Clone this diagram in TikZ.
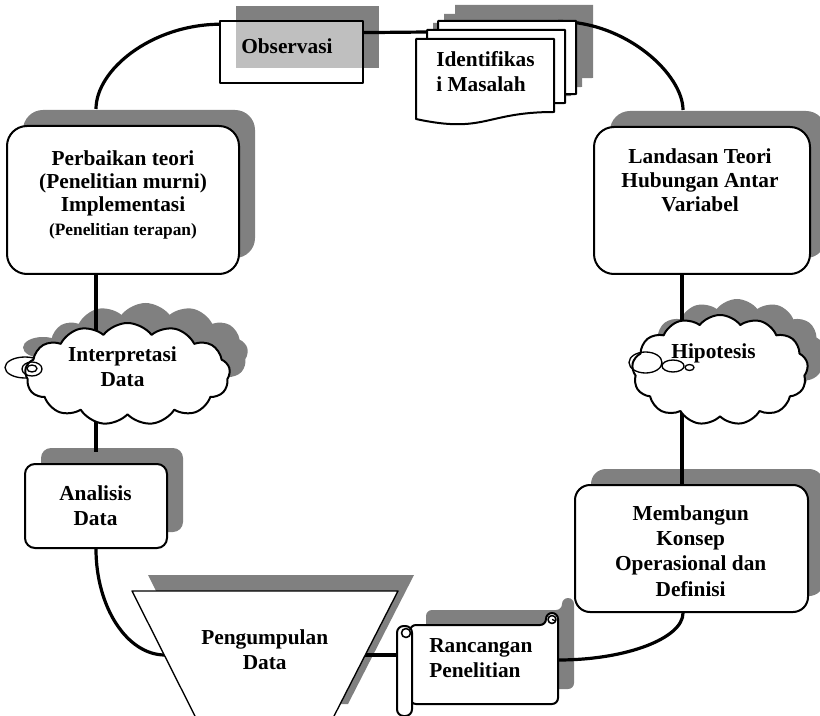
\documentclass[tikz,border=0pt]{standalone}
\usepackage{fontspec}
\setmainfont{Liberation Serif}
\usetikzlibrary{shapes.symbols,calc}
\definecolor{sg}{HTML}{808080}
\pgfdeclarelayer{shd}
\pgfdeclarelayer{conn}
\pgfsetlayers{shd,conn,main}
\newcommand\mydoc{(0,0) -- (138,0) -- (138,73) .. controls (69,73) and (69,95) .. (0,80) -- cycle}
\newcommand\mytrap{(132,591) -- (398,591) -- (332,720) -- (197,720) -- cycle}
\newcommand\myscrollbody{(410,625) -- (546,625) -- (546,613) -- (558,613) -- (558,704) -- (410,704) -- cycle}
\newcommand\mytube{(397,626) rectangle (412,716)}
\begin{document}
\begin{tikzpicture}[x=0.75pt,y=-0.75pt,line join=round,
  link/.style={line width=2.4pt},
  rbox/.style={draw,line width=1.5pt,fill=white,inner sep=0pt},
  sbox/.style={fill=sg,inner sep=0pt},
  mycloud/.style={cloud,cloud puffs=13,cloud puff arc=105,cloud ignores aspect,inner sep=0pt},
  txt/.style={font=\bfseries\fontsize{16}{18.75}\selectfont,align=center,inner sep=0pt},
]
\useasboundingbox (0,0) rectangle (820,716);

% ---------- shadows ----------
\begin{pgfonlayer}{shd}
\node[sbox,minimum width=107.25pt,minimum height=46.5pt] (obsS) at (307.5,37) {};
\begin{scope}[shift={(455,5)}]\fill[sg] \mydoc;\end{scope}
\begin{scope}[shift={(444,14)}]\fill[sg] \mydoc;\end{scope}
\begin{scope}[shift={(433,23)}]\fill[sg] \mydoc;\end{scope}
\node[sbox,rounded corners=15pt,minimum width=174pt,minimum height=111pt] (perbS) at (139,184) {};
\node[sbox,rounded corners=15pt,minimum width=162pt,minimum height=110.25pt] (landS) at (718,184.5) {};
\node[sbox,mycloud,minimum width=153.75pt,minimum height=76.5pt] (interpS) at (145.5,354) {};
\fill[sg] (43,347.5) ellipse [x radius=20,y radius=10.5];
\node[sbox,mycloud,minimum width=132pt,minimum height=82.5pt] (hipoS) at (737,354) {};
\node[sbox,rounded corners=7.5pt,minimum width=106.5pt,minimum height=63pt] (analS) at (112,490) {};
\node[sbox,rounded corners=11.25pt,minimum width=174.75pt,minimum height=95.25pt] (membS) at (707.5,532.5) {};
\fill[sg,shift={(16,-16)}] \mytrap;
\fill[sg,shift={(16,-15)},rounded corners=4.5pt] \myscrollbody;
\end{pgfonlayer}

% ---------- Observasi ----------
\node[draw,line width=1.3pt,fill=white,fill opacity=0.5,draw opacity=1,inner sep=0pt,
      minimum width=107.25pt,minimum height=46.5pt] (obs) at (291.5,52) {};
\node[txt,anchor=west] (tobs) at (241,46) {Observasi};

% ---------- Identifikasi Masalah (multi document) ----------
\begin{scope}[shift={(438,21)}]\filldraw[fill=white,line width=1.5pt] \mydoc;\end{scope}
\begin{scope}[shift={(427,30)}]\filldraw[fill=white,line width=1.5pt] \mydoc;\end{scope}
\begin{scope}[shift={(416,39)}]\filldraw[fill=white,line width=1.5pt] \mydoc;\end{scope}
\node[txt,align=left,anchor=west] (tidm) at (436,71.7) {Identifikas\\i Masalah};
\coordinate (idmL) at (427,32);
\coordinate (idmT) at (558,21.5);

% ---------- rounded boxes ----------
\node[rbox,rounded corners=15pt,minimum width=174pt,minimum height=111pt] (perb) at (123,200) {};
\node[txt,font=\bfseries\fontsize{16}{17.5}\selectfont] (tperb) at (123,194.5)
  {Perbaikan teori\\(Penelitian murni)\\Implementasi\\{\fontsize{13}{15}\selectfont (Penelitian terapan)}};

\node[rbox,rounded corners=15pt,minimum width=162pt,minimum height=110.25pt] (land) at (702,200.5) {};
\node[txt,font=\bfseries\fontsize{16}{18}\selectfont] (tland) at (700,180.5) {Landasan Teori\\Hubungan Antar\\Variabel};

\node[rbox,rounded corners=7.5pt,minimum width=106.5pt,minimum height=63pt] (anal) at (96,506) {};
\node[txt] (tanal) at (95.5,506) {Analisis\\Data};

\node[rbox,rounded corners=11.25pt,minimum width=174.75pt,minimum height=95.25pt] (memb) at (691.5,548.5) {};
\node[txt,font=\bfseries\fontsize{16}{19}\selectfont] (tmemb) at (690.7,551) {Membangun\\Konsep\\Operasional dan\\Definisi};

% ---------- clouds ----------
\filldraw[fill=white,line width=1pt] (25,367.5) ellipse [x radius=20,y radius=10.5];
\node[mycloud,draw,fill=white,line width=1.5pt,minimum width=153.75pt,minimum height=76.5pt] (interp) at (127.5,374) {};
\draw[line width=1pt] (32,369) ellipse [x radius=10,y radius=7];
\draw[line width=1pt] (32,368.5) ellipse [x radius=5,y radius=3.5];
\node[txt] (tinterp) at (122.5,366.5) {Interpretasi\\Data};

\node[mycloud,draw,fill=white,line width=1.5pt,minimum width=132pt,minimum height=82.5pt] (hipo) at (720,370) {};
\draw[line width=1pt] (645.5,362.5) ellipse [x radius=16.5,y radius=10.5];
\draw[line width=1pt] (673,366) ellipse [x radius=11,y radius=6];
\draw[line width=1pt] (689.5,367.5) ellipse [x radius=4.5,y radius=3];
\node[txt] (thipo) at (713.5,353.7) {Hipotesis};

% ---------- Pengumpulan Data ----------
\filldraw[fill=white,line width=1pt] \mytrap;
\node[txt] (tpg) at (264.7,650) {Pengumpulan\\Data};
\coordinate (pgL) at (165,655);
\coordinate (pgR) at (365,655);

% ---------- Rancangan Penelitian (scroll) ----------
\filldraw[fill=white,line width=1.5pt,rounded corners=4.5pt] \myscrollbody;
\draw[line width=1.2pt] (552,619.5) circle [radius=4];
\draw[line width=1pt] (552,619.5) -- (556,621);
\filldraw[fill=white,line width=1.5pt,rounded corners=5pt] \mytube;
\draw[line width=1.2pt] (406,633) circle [radius=4.5];
\node[txt,align=left,anchor=west] (trp) at (429,658) {Rancangan\\Penelitian};
\coordinate (rpL) at (397,655);
\coordinate (rpR) at (558,660);

% ---------- connectors ----------
\begin{pgfonlayer}{conn}
\draw[link,shorten >=12pt] (obs.159.3) .. controls (151,25) and (96,70) .. ($(perb.north)+(-27,0)$);
\draw[link] (obs.15.6) -- (idmL);
\draw[link,shorten >=12pt] (idmT) .. controls (627,21.5) and (683,75) .. ($(land.north)+(-19,0)$);
\draw[link] ($(perb.south)+(-27,0)$) -- ($(interp.center)+(-31.5,0)$);
\draw[link,shorten >=8pt] ($(interp.center)+(-31.5,0)$) -- (anal.north);
\draw[link] (anal.south) .. controls (96,607) and (127,655) .. (pgL);
\draw[link] (pgR) -- (rpL);
\draw[link] (rpR) .. controls (627,660) and (683,638) .. ($(memb.south)+(-8.5,0)$);
\draw[link] ($(land.south)+(-20,0)$) -- ($(hipo.center)+(-38,0)$);
\draw[link] ($(hipo.center)+(-38,0)$) -- ($(memb.north)+(-9.5,0)$);
\end{pgfonlayer}
\end{tikzpicture}
\end{document}
